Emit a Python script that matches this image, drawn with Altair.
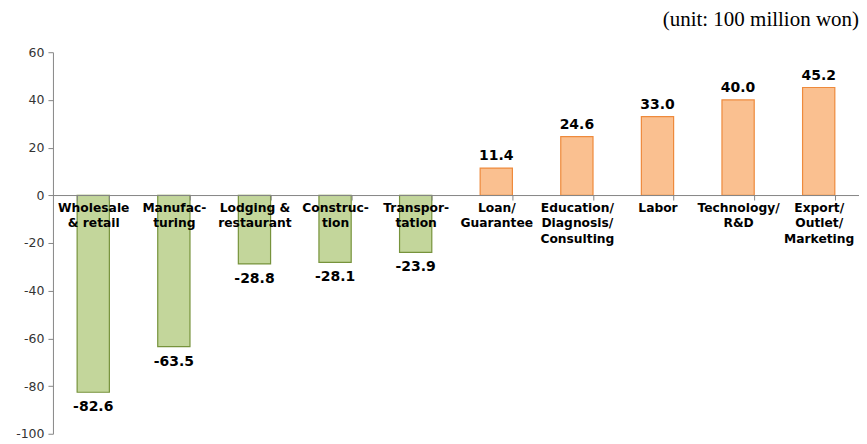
import altair as alt
import pandas as pd

categories = [
    "Wholesale|& retail", "Manufac-|turing", "Lodging &|restaurant",
    "Construc-|tion", "Transpor-|tation", "Loan/|Guarantee",
    "Education/|Diagnosis/|Consulting", "Labor", "Technology/|R&D",
    "Export/|Outlet/|Marketing",
]
values = [-82.6, -63.5, -28.8, -28.1, -23.9, 11.4, 24.6, 33.0, 40.0, 45.2]
y_ticks = [60, 40, 20, 0, -20, -40, -60, -80, -100]

df = pd.DataFrame({"cat": categories, "val": values})
df["sign"] = ["neg" if v < 0 else "pos" for v in values]
df["lab"] = [f"{v:.1f}" for v in values]

x = alt.X("cat:N", sort=categories,
          scale=alt.Scale(paddingInner=0.6, paddingOuter=0.3),
          axis=alt.Axis(title=None, orient="bottom", offset=-239, zindex=1,
                        tickBand="extent", tickSize=5, tickColor="#868686",
                        domainColor="#868686", labelAngle=0,
                        labelExpr="split(datum.label, '|')",
                        labelFont="DejaVu Sans", labelFontWeight="bold",
                        labelFontSize=12.3, labelColor="#000000",
                        labelLineHeight=16, labelPadding=1,
                        labelBaseline="top"))
y = alt.Y("val:Q", scale=alt.Scale(domain=[-100, 60], nice=False),
          axis=alt.Axis(title=None, values=y_ticks, grid=False, tickSize=5,
                        tickColor="#868686", domainColor="#868686",
                        labelExpr="toString(datum.value)",
                        labelFont="DejaVu Sans", labelFontSize=12.5,
                        labelColor="#333333", labelPadding=4))

bars = alt.Chart(df).mark_bar(strokeWidth=1.2).encode(
    x=x, y=y,
    color=alt.Color("sign:N", scale=alt.Scale(domain=["neg", "pos"], range=["#C3D69B", "#FAC090"]), legend=None),
    stroke=alt.Stroke("sign:N", scale=alt.Scale(domain=["neg", "pos"], range=["#77933C", "#EE8A3C"]), legend=None),
)

pos_text = alt.Chart(df).transform_filter("datum.val >= 0").mark_text(
    font="DejaVu Sans", fontWeight="bold", fontSize=14, baseline="bottom", dy=-5, color="#000000"
).encode(x=alt.X("cat:N", sort=categories), y="val:Q", text="lab:N")

neg_text = alt.Chart(df).transform_filter("datum.val < 0").mark_text(
    font="DejaVu Sans", fontWeight="bold", fontSize=14, baseline="top", dy=8, color="#000000"
).encode(x=alt.X("cat:N", sort=categories), y="val:Q", text="lab:N")

chart = alt.layer(bars, pos_text, neg_text).properties(
    width=807, height=382,
    title=alt.TitleParams("(unit: 100 million won)", anchor="end", font="Liberation Serif",
                          fontSize=21, fontWeight="normal", color="#000000", offset=16),
    autosize=alt.AutoSizeParams(type="none"),
    padding={"left": 45, "top": 44, "right": 0, "bottom": 10},
).configure_view(stroke=None)

chart.save("out.html", embed_options={"renderer": "svg", "actions": False})
